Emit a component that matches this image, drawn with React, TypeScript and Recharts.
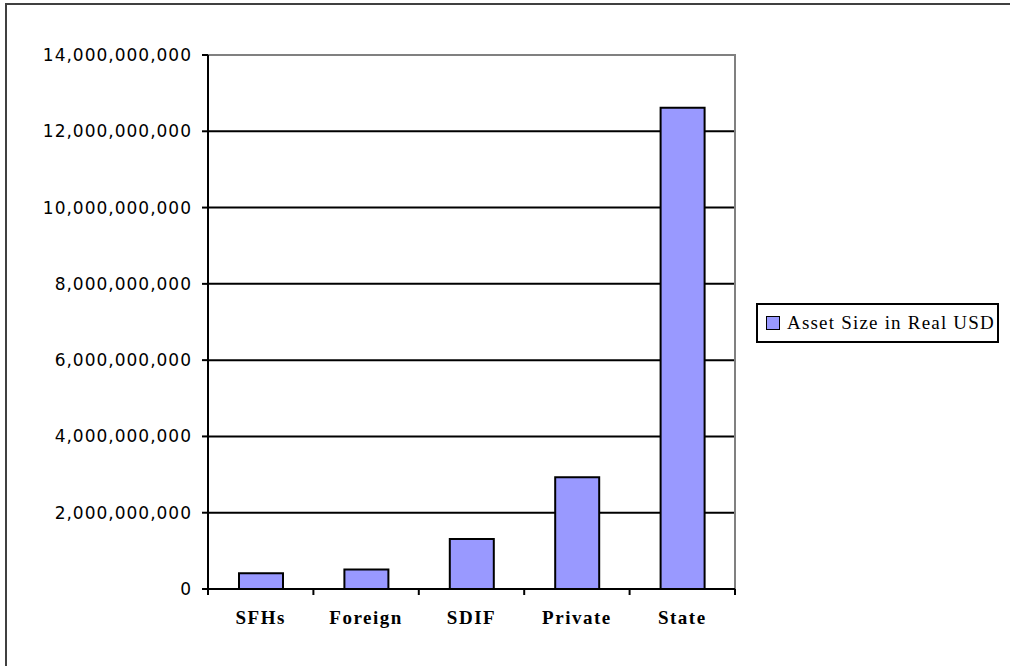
import React from "react";
import { Bar, BarChart, CartesianGrid, Legend, ReferenceArea, XAxis, YAxis } from "recharts";

const categories = ["SFHs", "Foreign", "SDIF", "Private", "State"];
const assetSize = [410000000, 510000000, 1310000000, 2930000000, 12620000000];
const yTicks = [0, 2e9, 4e9, 6e9, 8e9, 10e9, 12e9, 14e9];
const seriesName = "Asset Size in Real USD";

const data = categories.map((name, i) => ({ name, value: assetSize[i] }));

const CHART_W = 1010;
const CHART_H = 666;
const Y_AXIS_W = 208;
const MARGIN = { top: 55, right: 275, bottom: 37, left: 0 };
const PLOT_W = CHART_W - Y_AXIS_W - MARGIN.right;
const Y_MAX = yTicks[yTicks.length - 1];

const serif = "'Liberation Serif', 'Times New Roman', serif";

// category label plus the boundary tick marks between bands
function CategoryTick(props: any) {
  const { x, y, payload, index } = props;
  const half = PLOT_W / categories.length / 2;
  const last = index === categories.length - 1;
  return (
    <g>
      <line x1={x - half} x2={x - half} y1={y} y2={y + 6} stroke="#000" strokeWidth={2} />
      {last && <line x1={x + half} x2={x + half} y1={y} y2={y + 6} stroke="#000" strokeWidth={2} />}
      <text
        x={x}
        y={y + 35}
        textAnchor="middle"
        fill="#000"
        fontFamily={serif}
        fontWeight="bold"
        fontSize={19}
        letterSpacing={1.5}
      >
        {payload.value}
      </text>
    </g>
  );
}

// grey top and right edges of the plot area
function PlotFrame(props: any) {
  const { x, y, width, height } = props;
  return (
    <path
      d={`M${x},${y}H${x + width}V${y + height}`}
      stroke="#808080"
      strokeWidth={2}
      fill="none"
    />
  );
}

function LegendBox(props: any) {
  const item = (props.payload || [])[0];
  return (
    <div
      style={{
        boxSizing: "border-box",
        width: 243,
        height: 40,
        border: "2px solid #000",
        background: "#fff",
        display: "flex",
        alignItems: "center",
        paddingLeft: 8,
      }}
    >
      <span
        style={{
          display: "inline-block",
          width: 12,
          height: 12,
          border: "1.5px solid #000",
          background: item ? item.color : "#9999ff",
          marginRight: 7,
        }}
      />
      <span style={{ fontFamily: serif, fontSize: 19, letterSpacing: 1.2, color: "#000", whiteSpace: "nowrap" }}>
        {item ? item.value : seriesName}
      </span>
    </div>
  );
}

export default function App() {
  return (
    <div
      style={{
        position: "fixed",
        left: 0,
        top: 0,
        width: CHART_W,
        height: CHART_H,
        overflow: "hidden",
        background: "#fff",
      }}
    >
      <div
        style={{
          position: "absolute",
          left: 5,
          top: 3,
          width: 2000,
          height: 2000,
          border: "2px solid #404040",
        }}
      />
      <div style={{ position: "absolute", left: 0, top: 0 }}>
        <BarChart width={CHART_W} height={CHART_H} data={data} margin={MARGIN}>
          <CartesianGrid vertical={false} stroke="#000" strokeWidth={2} />
          <ReferenceArea
            x1={categories[0]}
            x2={categories[categories.length - 1]}
            y1={0}
            y2={Y_MAX}
            shape={<PlotFrame />}
          />
          <XAxis
            dataKey="name"
            height={40}
            tickLine={false}
            tickSize={0}
            tickMargin={0}
            axisLine={{ stroke: "#000", strokeWidth: 2 }}
            tick={<CategoryTick />}
            interval={0}
          />
          <YAxis
            width={Y_AXIS_W}
            domain={[0, Y_MAX]}
            ticks={yTicks}
            interval={0}
            tickFormatter={(v: number) => v.toLocaleString("en-US")}
            tickSize={6}
            tickMargin={10}
            tickLine={{ stroke: "#000", strokeWidth: 2 }}
            axisLine={{ stroke: "#000", strokeWidth: 2 }}
            tick={{ fill: "#000", fontSize: 17, fontFamily: "'DejaVu Sans', Verdana, sans-serif", letterSpacing: 1 }}
          />
          <Legend
            layout="horizontal"
            verticalAlign="middle"
            align="center"
            content={<LegendBox />}
            wrapperStyle={{ left: 756, top: 303, width: 243, height: 40 }}
          />
          <Bar
            dataKey="value"
            name={seriesName}
            fill="#9999ff"
            stroke="#000"
            strokeWidth={2}
            barSize={44}
            isAnimationActive={false}
          />
        </BarChart>
      </div>
    </div>
  );
}
